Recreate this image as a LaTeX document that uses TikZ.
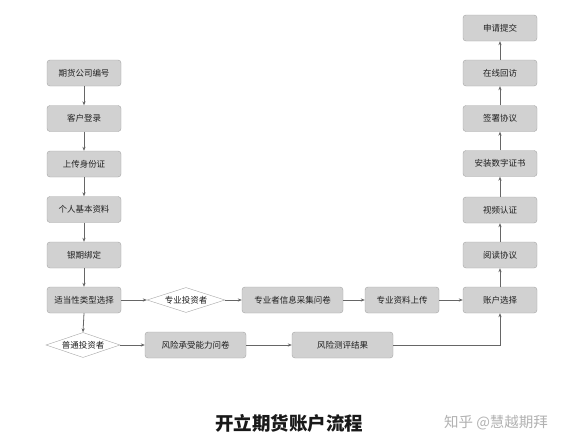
\documentclass[tikz,border=0pt]{standalone}
\usepackage{fontspec}
\newfontfamily\cjk{Noto Sans CJK SC}
\usetikzlibrary{shapes.geometric,arrows.meta}
\begin{document}
\begin{tikzpicture}[x=1pt,y=-1pt,
  stepbox/.style={draw=black!35,fill=black!18,rounded corners=3pt,minimum width=74pt,minimum height=26pt,inner sep=1pt,font=\cjk\fontsize{8.5}{10}\selectfont,text=black!88},
  choice/.style={draw=black!35,fill=white,shape=diamond,aspect=3.2,inner sep=0pt,minimum width=78pt,minimum height=25pt,font=\cjk\fontsize{8.5}{10}\selectfont,text=black!88},
  flow/.style={draw=black!60,line width=0.8pt,-{Stealth[length=4pt,width=3.2pt]}}]
\useasboundingbox (0,0) rectangle (576,442);
\fill[white] (0,0) rectangle (576,442);
% left column
\node[stepbox] (a1) at (84,73) {期货公司编号};
\node[stepbox] (a2) at (84,118.5) {客户登录};
\node[stepbox] (a3) at (84,164) {上传身份证};
\node[stepbox] (a4) at (84,209.5) {个人基本资料};
\node[stepbox] (a5) at (84,255) {银期绑定};
\node[stepbox] (a6) at (84,300) {适当性类型选择};
% professional row
\node[choice] (d1) at (186,300) {专业投资者};
\node[stepbox,minimum width=101pt] (p1) at (292.5,300) {专业者信息采集问卷};
\node[stepbox] (p2) at (402,300) {专业资料上传};
% normal row
\node[choice,minimum width=74pt] (d2) at (83,345) {普通投资者};
\node[stepbox,minimum width=101pt] (n1) at (195.5,345) {风险承受能力问卷};
\node[stepbox,minimum width=101pt] (n2) at (342.5,345) {风险测评结果};
% right column
\node[stepbox] (b1) at (500,300) {账户选择};
\node[stepbox] (b2) at (500,255) {阅读协议};
\node[stepbox] (b3) at (500,210) {视频认证};
\node[stepbox] (b4) at (500,163.5) {安装数字证书};
\node[stepbox] (b5) at (500,118.5) {签署协议};
\node[stepbox] (b6) at (500,73) {在线回访};
\node[stepbox] (b7) at (500,28) {申请提交};
% connectors
\draw[flow] (a1) -- (a2);
\draw[flow] (a2) -- (a3);
\draw[flow] (a3) -- (a4);
\draw[flow] (a4) -- (a5);
\draw[flow] (a5) -- (a6);
\draw[flow] (a6) -- (d1);
\draw[flow] (d1) -- (p1);
\draw[flow] (p1) -- (p2);
\draw[flow] (p2) -- (b1);
\draw[flow] (a6.south) -- (d2.north);
\draw[flow] (d2) -- (n1);
\draw[flow] (n1) -- (n2);
\draw[flow] (n2.east) -| (b1.south);
\draw[flow] (b1) -- (b2);
\draw[flow] (b2) -- (b3);
\draw[flow] (b3) -- (b4);
\draw[flow] (b4) -- (b5);
\draw[flow] (b5) -- (b6);
\draw[flow] (b6) -- (b7);
% title and mark
\node[font=\cjk\bfseries\fontsize{18.5}{21}\selectfont,text=black!90] (title) at (289,423) {开立期货账户流程};
\node[font=\cjk\fontsize{14.5}{17}\selectfont,text=black!30] (mark) at (496,423) {知乎 @慧越期拜};
\end{tikzpicture}
\end{document}
